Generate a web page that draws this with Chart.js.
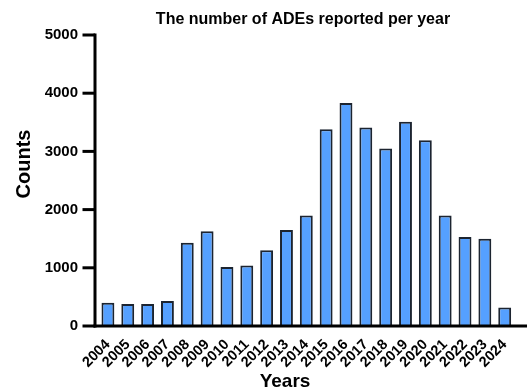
<!DOCTYPE html>
<html>
<head>
<meta charset="utf-8">
<style>
  html, body { margin: 0; padding: 0; background: #fff; }
  #wrap { width: 527px; height: 390px; position: relative; }
</style>
<script src="https://cdn.jsdelivr.net/npm/chart.js@4/dist/chart.umd.min.js"></script>
</head>
<body>
<div id="wrap"><canvas id="c" width="527" height="390"></canvas></div>
<script>
const years = ['2004','2005','2006','2007','2008','2009','2010','2011','2012','2013','2014','2015','2016','2017','2018','2019','2020','2021','2022','2023','2024'];
const counts = [400, 380, 380, 430, 1430, 1630, 1015, 1040, 1300, 1650, 1900, 3380, 3830, 3410, 3050, 3510, 3190, 1900, 1530, 1500, 320];
const yTicks = [0, 1000, 2000, 3000, 4000, 5000];
const titleText = 'The number of ADEs reported per year';
const xTitle = 'Years';
const yTitle = 'Counts';

const FONT = '"Liberation Sans", Arial, Helvetica, sans-serif';

const axesPlugin = {
  id: 'customAxes',
  afterDatasetsDraw(chart) {
    const ctx = chart.ctx;
    const ys = chart.scales.y;
    const area = chart.chartArea;
    const y0 = ys.getPixelForValue(0);
    const yTop = ys.getPixelForValue(yTicks[yTicks.length - 1]);
    const axX = area.left - 3;
    ctx.save();
    ctx.strokeStyle = '#000';
    ctx.lineWidth = 3;
    ctx.lineCap = 'butt';
    ctx.beginPath();
    ctx.moveTo(axX, yTop - 1.5);
    ctx.lineTo(axX, y0 + 1.5);
    ctx.stroke();
    ctx.beginPath();
    ctx.moveTo(axX - 1.5, y0);
    ctx.lineTo(chart.width, y0);
    ctx.stroke();
    yTicks.forEach(v => {
      const py = ys.getPixelForValue(v);
      ctx.beginPath();
      ctx.moveTo(axX - 12.5, py);
      ctx.lineTo(axX, py);
      ctx.stroke();
    });
    ctx.restore();
  },
  afterDraw(chart) {
    const ctx = chart.ctx;
    ctx.save();
    ctx.fillStyle = '#000';
    ctx.font = 'bold 16px ' + FONT;
    ctx.textAlign = 'center';
    ctx.textBaseline = 'alphabetic';
    ctx.fillText(titleText, 303, 23.5);
    ctx.font = 'bold 19px ' + FONT;
    ctx.fillText(xTitle, 285, 387);
    ctx.translate(30, 164);
    ctx.rotate(-Math.PI / 2);
    ctx.font = 'bold 20px ' + FONT;
    ctx.fillText(yTitle, 0, 0);
    ctx.restore();
  }
};

new Chart(document.getElementById('c'), {
  type: 'bar',
  data: {
    labels: years,
    datasets: [{
      data: counts,
      backgroundColor: '#55a0ff',
      borderColor: '#1c2430',
      borderWidth: 2,
      borderSkipped: 'bottom',
      barPercentage: 0.65,
      categoryPercentage: 1.0
    }]
  },
  options: {
    responsive: false,
    animation: false,
    devicePixelRatio: 1,
    layout: { padding: { top: 35, left: 0, right: 0, bottom: 0 } },
    plugins: {
      legend: { display: false },
      title: { display: false },
      tooltip: { enabled: false }
    },
    scales: {
      x: {
        type: 'category',
        afterFit(scale) { scale.height = 64; },
        grid: { display: false, drawTicks: false, tickLength: 0 },
        border: { display: false },
        ticks: {
          autoSkip: false,
          minRotation: 45,
          maxRotation: 45,
          padding: 10,
          color: '#000',
          font: { family: FONT, size: 14.5, weight: 'bold' }
        }
      },
      y: {
        min: 0,
        max: 5000,
        afterFit(scale) { scale.width = 98; },
        afterBuildTicks(scale) { scale.ticks = yTicks.map(v => ({ value: v })); },
        grid: { display: false, drawTicks: false, tickLength: 0 },
        border: { display: false },
        ticks: {
          padding: 20,
          color: '#000',
          callback: (v) => String(v),
          font: { family: FONT, size: 15, weight: 'bold' }
        }
      }
    }
  },
  plugins: [axesPlugin]
});
</script>
</body>
</html>
